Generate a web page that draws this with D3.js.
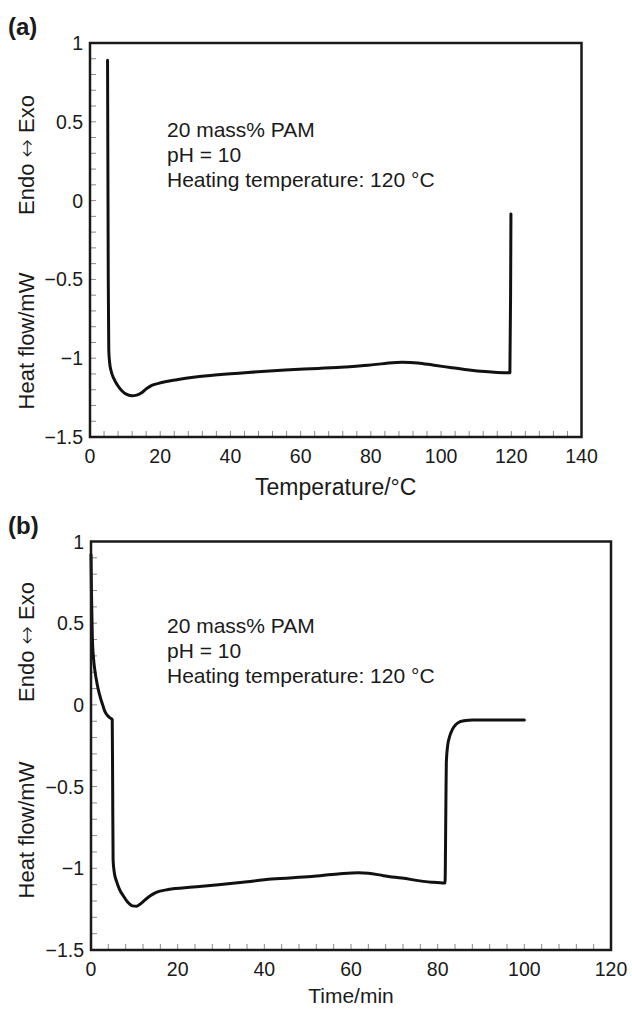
<!DOCTYPE html>
<html>
<head>
<meta charset="utf-8">
<script src="https://cdn.jsdelivr.net/npm/d3@7"></script>
<style>
  body { margin: 0; background: #fff; }
  svg { display: block; font-family: "Liberation Sans", Arial, sans-serif; }
</style>
</head>
<body>
<div id="chart"></div>
<script>
// ===== DSC curves, 20 mass% PAM =====

// panel (a): heat flow vs temperature
const tempA = [5.0, 5.2, 5.35, 5.6, 6.0, 6.8, 7.8, 9.0, 10.3, 11.9, 13.3, 14.7, 16.0, 17.6, 19.5, 21.4, 24.7, 30, 36.5, 45, 55.6, 65, 72.6, 79.2, 84, 88.9, 93.4, 98, 103.1, 108, 112.5, 116, 119.6, 119.8, 119.9];
const heatA = [0.89, -0.5, -0.95, -1.03, -1.08, -1.13, -1.17, -1.205, -1.228, -1.238, -1.234, -1.22, -1.195, -1.172, -1.16, -1.15, -1.137, -1.12, -1.105, -1.09, -1.075, -1.065, -1.056, -1.045, -1.033, -1.025, -1.03, -1.045, -1.06, -1.075, -1.085, -1.09, -1.092, -0.6, -0.085];

// panel (b): heat flow vs time
const timeB = [0, 0.1, 0.3, 0.6, 0.9, 1.4, 2.1, 2.7, 3.2, 3.8, 4.4, 4.9, 5.0, 5.1, 5.4, 5.9, 6.6, 7.5, 8.4, 9.6, 10.5, 11.3, 12.4, 13.6, 14.7, 15.9, 17.8, 23.6, 29.4, 35, 41.7, 50.9, 57, 61.7, 64, 67.5, 71.7, 78.6, 81.7, 81.9, 82.0, 82.3, 82.8, 83.4, 84.2, 85.2, 86.5, 88, 100];
const heatB = [0.92, 0.7, 0.42, 0.28, 0.21, 0.13, 0.05, 0.0, -0.04, -0.065, -0.08, -0.09, -0.5, -0.95, -1.03, -1.08, -1.13, -1.17, -1.205, -1.23, -1.232, -1.22, -1.195, -1.17, -1.152, -1.14, -1.13, -1.115, -1.10, -1.085, -1.066, -1.05, -1.035, -1.027, -1.03, -1.045, -1.06, -1.085, -1.09, -0.6, -0.35, -0.25, -0.19, -0.15, -0.12, -0.103, -0.095, -0.093, -0.092];

const xTicksA = [0, 20, 40, 60, 80, 100, 120, 140];
const xTicksB = [0, 20, 40, 60, 80, 100, 120];
const yTicks = [1, 0.5, 0, -0.5, -1, -1.5];
const noteLines = ['20 mass% PAM', 'pH = 10', 'Heating temperature: 120 °C'];

const W = 632, H = 1011;

const svg = d3.select('#chart')
  .append('svg')
  .attr('width', W)
  .attr('height', H);

const fmt = d3.format('~g');

function drawPanel(cfg) {
  const x = d3.scaleLinear().domain(cfg.xDomain).range([cfg.left, cfg.right]);
  const y = d3.scaleLinear().domain([-1.5, 1]).range([cfg.bottom, cfg.top]);
  const g = svg.append('g');

  // minor ticks, pointing into the plot
  const xMinor = d3.range(cfg.xDomain[0], cfg.xDomain[1] + 0.001, 4);
  const yMinor = d3.range(-1.5, 1.0001, 0.1);

  g.selectAll('.xm').data(xMinor).join('line')
    .attr('x1', d => x(d)).attr('x2', d => x(d))
    .attr('y1', cfg.bottom).attr('y2', cfg.bottom - 6)
    .attr('stroke', '#8a8a8a').attr('stroke-width', 1);

  g.selectAll('.ym').data(yMinor).join('line')
    .attr('x1', cfg.left).attr('x2', cfg.left + 6)
    .attr('y1', d => y(d)).attr('y2', d => y(d))
    .attr('stroke', '#8a8a8a').attr('stroke-width', 1);

  // tick labels
  g.selectAll('.xl').data(cfg.xTicks).join('text')
    .attr('x', d => x(d))
    .attr('y', cfg.bottom + 26)
    .attr('text-anchor', 'middle')
    .attr('font-size', 19.5)
    .attr('fill', '#1a1a1a')
    .text(d => fmt(d));

  g.selectAll('.yl').data(yTicks).join('text')
    .attr('x', cfg.left - 7)
    .attr('y', d => y(d) + 7)
    .attr('text-anchor', 'end')
    .attr('font-size', 19.5)
    .attr('fill', '#1a1a1a')
    .text(d => fmt(d));

  // curve (x is strictly increasing, so monotoneX keeps the steep parts tight)
  const line = d3.line()
    .x(d => x(d[0]))
    .y(d => y(d[1]))
    .curve(d3.curveMonotoneX);

  g.append('path')
    .datum(d3.zip(cfg.xs, cfg.ys))
    .attr('d', line)
    .attr('fill', 'none')
    .attr('stroke', '#111')
    .attr('stroke-width', 3)
    .attr('stroke-linejoin', 'round')
    .attr('stroke-linecap', 'round');

  // frame
  g.append('rect')
    .attr('x', cfg.left).attr('y', cfg.top)
    .attr('width', cfg.right - cfg.left)
    .attr('height', cfg.bottom - cfg.top)
    .attr('fill', 'none')
    .attr('stroke', '#1a1a1a')
    .attr('stroke-width', 2.5);

  // annotation
  g.selectAll('.note').data(noteLines).join('text')
    .attr('x', 167)
    .attr('y', (d, i) => cfg.noteY + i * 25)
    .attr('font-size', 21)
    .attr('fill', '#1a1a1a')
    .text(d => d);

  // panel letter
  g.append('text')
    .attr('x', 8).attr('y', cfg.top - 8)
    .attr('font-size', 24)
    .attr('font-weight', 'bold')
    .attr('fill', '#1a1a1a')
    .text(cfg.letter);

  // axis titles
  g.append('text')
    .attr('x', (cfg.left + cfg.right) / 2)
    .attr('y', cfg.xTitleY)
    .attr('text-anchor', 'middle')
    .attr('font-size', cfg.xTitleSize)
    .attr('fill', '#1a1a1a')
    .text(cfg.xTitle);

  g.append('text')
    .attr('transform', `translate(34, ${cfg.yTitle1}) rotate(-90)`)
    .attr('text-anchor', 'middle')
    .attr('font-size', 22)
    .attr('fill', '#1a1a1a')
    .text('Heat flow/mW');

  const endo = g.append('text')
    .attr('transform', `translate(34, ${cfg.yTitle2}) rotate(-90)`)
    .attr('text-anchor', 'middle')
    .attr('font-size', 22)
    .attr('fill', '#1a1a1a');
  endo.append('tspan').text('Endo ');
  endo.append('tspan').attr('font-family', '"DejaVu Sans", sans-serif').attr('font-weight', 300).text('\u2194');
  endo.append('tspan').text(' Exo');
}

drawPanel({
  letter: '(a)', xs: tempA, ys: heatA, xDomain: [0, 140], xTicks: xTicksA,
  left: 90, right: 581.5, top: 43, bottom: 437,
  noteY: 137, xTitle: 'Temperature/°C', xTitleY: 495, xTitleSize: 23,
  yTitle1: 341, yTitle2: 155
});

drawPanel({
  letter: '(b)', xs: timeB, ys: heatB, xDomain: [0, 120], xTicks: xTicksB,
  left: 91, right: 611, top: 541.5, bottom: 950,
  noteY: 633, xTitle: 'Time/min', xTitleY: 1003, xTitleSize: 21,
  yTitle1: 830, yTitle2: 642
});
</script>
</body>
</html>
